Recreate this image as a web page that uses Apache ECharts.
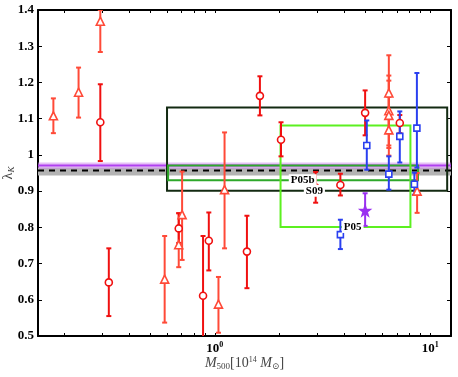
<!DOCTYPE html>
<html><head><meta charset="utf-8">
<script src="https://cdn.jsdelivr.net/npm/echarts@6/dist/echarts.min.js"></script>
<style>html,body{margin:0;padding:0;background:#fff}#c{width:458px;height:377px}</style>
</head><body><div id="c"></div>
<script>
// [mass (1e14 Msun), lambda_K, lower, upper]
const redCircles = [
  [0.294, 1.090, 0.983, 1.195],
  [0.322, 0.648, 0.555, 0.742],
  [0.680, 0.797, 0.757, 0.839],
  [0.882, 0.611, 0.480, 0.776],
  [0.938, 0.763, 0.681, 0.841],
  [1.41, 0.733, 0.632, 0.832],
  [1.62, 1.163, 1.109, 1.217],
  [2.03, 1.042, 0.996, 1.090],
  [2.94, 0.910, 0.868, 0.953],
  [3.83, 0.917, 0.888, 0.948],
  [4.99, 1.116, 1.054, 1.178],
  [7.23, 1.088, 1.060, 1.110]
];
const redTriangles = [
  [0.178, 1.108, 1.060, 1.156],
  [0.233, 1.173, 1.103, 1.241],
  [0.294, 1.369, 1.284, 1.400],
  [0.585, 0.657, 0.537, 0.776],
  [0.680, 0.752, 0.690, 0.839],
  [0.705, 0.835, 0.710, 0.954],
  [1.04, 0.588, 0.509, 0.663],
  [1.11, 0.904, 0.742, 1.062],
  [6.43, 1.171, 1.060, 1.275],
  [6.43, 1.122, 1.019, 1.219],
  [6.43, 1.109, 1.026, 1.205],
  [6.43, 1.069, 0.998, 1.160],
  [8.70, 0.900, 0.840, 0.950]
];
const blueSquares = [
  [3.83, 0.780, 0.740, 0.821],
  [5.08, 1.026, 0.959, 1.095],
  [6.43, 0.947, 0.904, 0.996],
  [7.23, 1.051, 0.979, 1.120],
  [8.45, 0.919, 0.890, 0.951],
  [8.68, 1.074, 0.965, 1.226]
];
const purpleStar = [[4.99, 0.846, 0.804, 0.894]];
// boxes: [xMin, xMax, yMin, yMax, labelX, label]
const boxS09 = [0.6, 12.0, 0.901, 1.131, 2.9, 'S09'];
const boxP05b = [0.607, 8.78, 0.930, 0.971, 2.56, 'P05b'];
const boxP05 = [2.02, 8.1, 0.801, 1.081, 4.37, 'P05'];
// horizontal bands
const grayBand = [0.943, 0.965];
const purpleBand = [0.962, 0.979];
const purpleLine = 0.971;
const dashedLine = 0.957;
const xMinorTicks = [0.2,0.3,0.4,0.5,0.6,0.7,0.8,0.9,1,2,3,4,5,6,7,8,9,10];
const xLabelTicks = [1, 10];

const chart = echarts.init(document.getElementById('c'));
const serif = '"Liberation Serif", "DejaVu Serif", serif';

function errSeries(data, color, z) {
  return {
    type: 'custom', z: z, clip: true,
    data: data.map(d => [d[0], d[2], d[3]]),
    encode: { x: 0, y: [1, 2] },
    renderItem(params, api) {
      const x = api.value(0);
      const lo = api.coord([x, api.value(1)]);
      const hi = api.coord([x, api.value(2)]);
      const w = 2.5;
      const style = { stroke: color, lineWidth: 2 };
      return { type: 'group', children: [
        { type: 'line', shape: { x1: lo[0], y1: lo[1], x2: hi[0], y2: hi[1] }, style },
        { type: 'line', shape: { x1: lo[0] - w, y1: lo[1], x2: lo[0] + w, y2: lo[1] }, style },
        { type: 'line', shape: { x1: hi[0] - w, y1: hi[1], x2: hi[0] + w, y2: hi[1] }, style }
      ]};
    }
  };
}
function markerSeries(data, symbol, size, color, fill, z) {
  return {
    type: 'scatter', z: z, symbol: symbol, symbolSize: size,
    data: data.map(d => [d[0], d[1]]),
    itemStyle: { color: fill, borderColor: color, borderWidth: 1.6, opacity: 1 },
    emphasis: { disabled: true }
  };
}
function bandSeries(band, color, z) {
  return {
    type: 'custom', z: z,
    data: [[1, band[0], band[1]]],
    encode: { x: 0, y: [1, 2] },
    renderItem(params, api) {
      const cs = params.coordSys;
      const y1 = api.coord([1, api.value(1)])[1];
      const y2 = api.coord([1, api.value(2)])[1];
      return { type: 'rect', shape: { x: cs.x, y: Math.min(y1, y2), width: cs.width, height: Math.abs(y2 - y1) }, style: { fill: color } };
    }
  };
}
function hLineSeries(val, color, width, dash, z) {
  return {
    type: 'custom', z: z,
    data: [[1, val]],
    encode: { x: 0, y: 1 },
    renderItem(params, api) {
      const cs = params.coordSys;
      const y = api.coord([1, api.value(1)])[1];
      return { type: 'line', shape: { x1: cs.x, y1: y, x2: cs.x + cs.width, y2: y }, style: { stroke: color, lineWidth: width, lineDash: dash } };
    }
  };
}
function boxSeries(box, color, z) {
  return {
    type: 'custom', z: z,
    data: [[box[0], box[1], box[2], box[3]]],
    encode: { x: [0, 1], y: [2, 3] },
    renderItem(params, api) {
      const p1 = api.coord([api.value(0), api.value(3)]);
      const p2 = api.coord([api.value(1), api.value(2)]);
      return { type: 'rect', shape: { x: p1[0], y: p1[1], width: p2[0] - p1[0], height: p2[1] - p1[1] }, style: { fill: 'none', stroke: color, lineWidth: 2 } };
    }
  };
}
function boxLabelSeries(box, z) {
  return {
    type: 'custom', z: z,
    data: [[box[4], box[2]]],
    encode: { x: 0, y: 1 },
    renderItem(params, api) {
      const p = api.coord([api.value(0), api.value(1)]);
      return { type: 'text', style: { text: box[5], x: p[0], y: p[1], align: 'center', verticalAlign: 'middle',
        font: 'bold 11px ' + serif, fill: '#000', backgroundColor: '#fff', padding: [1, 2, 0, 2] } };
    }
  };
}

const xAxisBase = {
  type: 'log', logBase: 10, min: 0.151, max: 12.5,
  axisLine: { lineStyle: { color: '#000', width: 2 } },
  splitLine: { show: false }, minorTick: { show: false },
  axisTick: { inside: true, length: 3, customValues: xMinorTicks, lineStyle: { color: '#000', width: 1 } }
};
const yAxisBase = {
  type: 'value', min: 0.5, max: 1.4, interval: 0.1,
  axisLine: { show: true, lineStyle: { color: '#000', width: 2 } },
  splitLine: { show: false },
  axisTick: { inside: true, length: 4, lineStyle: { color: '#000', width: 1 } }
};

chart.setOption({
  animation: false,
  backgroundColor: '#fff',
  grid: { left: 38, right: 7, top: 10, bottom: 41, containLabel: false, outerBoundsMode: 'none' },
  xAxis: [
    Object.assign({}, xAxisBase, {
      position: 'bottom',
      axisLabel: {
        customValues: xLabelTicks, margin: 5,
        formatter: v => '{b|10}{s|' + Math.round(Math.log10(v)) + '}',
        rich: {
          b: { fontFamily: serif, fontWeight: 'bold', fontSize: 13, color: '#000' },
          s: { fontFamily: serif, fontWeight: 'bold', fontSize: 8, color: '#000', padding: [0, 0, 8, 0] }
        }
      },
      name: '{i|M}{sub|500}{n|[10}{sup|14}{i| M}{sub|⊙}{n|]}',
      nameLocation: 'middle', nameGap: 20, nameMoveOverlap: false,
      nameTextStyle: {
        rich: {
          i: { fontFamily: serif, fontStyle: 'italic', fontSize: 14, color: '#444' },
          n: { fontFamily: serif, fontSize: 14, color: '#444' },
          sub: { fontFamily: serif, fontSize: 9, color: '#444', padding: [6, 0, 0, 0] },
          sup: { fontFamily: serif, fontSize: 8, color: '#444', padding: [0, 0, 7, 0] }
        }
      }
    }),
    Object.assign({}, xAxisBase, { position: 'top', axisLabel: { show: false } })
  ],
  yAxis: [
    Object.assign({}, yAxisBase, {
      position: 'left',
      axisLabel: { margin: 4, fontFamily: serif, fontWeight: 'bold', fontSize: 13, color: '#000' },
      name: '{l|λ}{k|K}', nameLocation: 'middle', nameGap: 22, nameRotate: 90, nameMoveOverlap: false,
      nameTextStyle: {
        rich: {
          l: { fontFamily: serif, fontSize: 14, color: '#444' },
          k: { fontFamily: serif, fontStyle: 'italic', fontSize: 9, color: '#444', padding: [6, 0, 0, 0] }
        }
      }
    }),
    Object.assign({}, yAxisBase, { position: 'right', axisLabel: { show: false } })
  ],
  series: [
    bandSeries(grayBand, '#b3b3b3', 1),
    bandSeries(purpleBand, 'rgba(210,140,240,0.55)', 2),
    hLineSeries(purpleLine, '#b040f0', 2, null, 3),
    hLineSeries(dashedLine, '#000', 2, [6, 5], 4),
    boxSeries(boxS09, '#132a12', 5),
    boxSeries(boxP05b, '#2ea82a', 5),
    boxSeries(boxP05, '#5cf020', 5),
    errSeries(redTriangles, '#ff4a38', 6),
    errSeries(redCircles, '#f01010', 6),
    errSeries(blueSquares, '#2a40f0', 6),
    errSeries(purpleStar, '#9a30f0', 6),
    markerSeries(redTriangles, 'triangle', 8, '#ff4a38', '#fff', 7),
    markerSeries(redCircles, 'circle', 7, '#f01010', '#fff', 7),
    markerSeries(blueSquares, 'rect', 6, '#2a40f0', '#fff', 7),
    markerSeries(purpleStar, 'path://M0,-10 L2.35,-3.24 L9.51,-3.09 L3.8,1.24 L5.88,8.09 L0,4 L-5.88,8.09 L-3.8,1.24 L-9.51,-3.09 L-2.35,-3.24 Z', 10, '#9a30f0', '#9a30f0', 7),
    boxLabelSeries(boxS09, 10),
    boxLabelSeries(boxP05b, 10),
    boxLabelSeries(boxP05, 10)
  ]
});
</script></body></html>
